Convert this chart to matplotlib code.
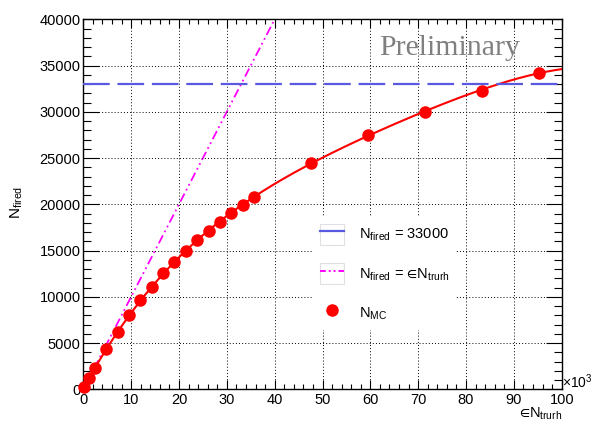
import numpy as np
import matplotlib
matplotlib.use("Agg")
import matplotlib.pyplot as plt
from matplotlib.patches import Rectangle
from matplotlib.lines import Line2D
from matplotlib.legend_handler import HandlerTuple
from matplotlib.ticker import MultipleLocator

plt.rcParams['font.family'] = ['Liberation Sans', 'DejaVu Sans']
plt.rcParams['mathtext.fontset'] = 'custom'
plt.rcParams['mathtext.rm'] = 'Liberation Sans'
plt.rcParams['mathtext.it'] = 'Liberation Sans'
plt.rcParams['mathtext.default'] = 'regular'
plt.rcParams['mathtext.fallback'] = 'stixsans'

# ---- data (x in units of 10^3) ----
mc_x = [0.2, 1.2, 2.4, 4.8, 7.15, 9.55, 11.9, 14.3, 16.65, 19.05, 21.4, 23.8,
        26.2, 28.6, 30.95, 33.35, 35.7, 47.6, 59.5, 71.4, 83.3, 95.2]
mc_y = [200, 1190, 2270, 4320, 6220, 8020, 9640, 11070, 12520, 13770, 14960, 16110,
        17110, 18130, 19060, 19960, 20780, 24490, 27520, 30030, 32300, 34210]
threshold = 33000
eps_x = [0, 40]
eps_y = [0, 40000]

fig = plt.figure(figsize=(5.94, 4.21), dpi=100)
W, H = 594, 421
ax = fig.add_axes([83.3 / W, 1 - 389.3 / H, (561.7 - 83.3) / W, (389.3 - 19.3) / H])

# fit curve through MC points
coef = np.polyfit(mc_x, mc_y, 4)
fx = np.linspace(0, 100, 400)
fy = np.polyval(coef, fx)
ax.plot(fx, fy, color='red', lw=1.5, zorder=3)

ax.axhline(threshold, color='#5a5ae0', lw=1.6, dashes=(12, 3.5), zorder=3)
ax.plot(eps_x, eps_y, color='#ff00ff', lw=1.3, dashes=(5, 2, 1, 2, 1, 2), zorder=2)
ax.plot(mc_x, mc_y, 'o', color='red', ms=8, zorder=4, clip_on=False)

ax.set_xlim(0, 100)
ax.set_ylim(0, 40000)
ax.xaxis.set_major_locator(MultipleLocator(10))
ax.xaxis.set_minor_locator(MultipleLocator(2))
ax.yaxis.set_major_locator(MultipleLocator(5000))
ax.yaxis.set_minor_locator(MultipleLocator(1000))
ax.tick_params(axis='both', which='both', direction='in', top=True, right=True,
               width=0.8, labelsize=10.5, colors='black')
ax.tick_params(axis='x', which='major', length=6.5, pad=3)
ax.tick_params(axis='x', which='minor', length=3.4)
ax.tick_params(axis='y', which='major', length=11.5, pad=2)
ax.tick_params(axis='y', which='minor', length=5.8)
for s in ax.spines.values():
    s.set_linewidth(1.0)
ax.grid(True, which='major', color='black', lw=0.7, linestyle=(0, (1, 2.2)))
ax.set_axisbelow(False)

# labels
fig.text(17 / W, 1 - 202 / H, r'$N_{fired}$', rotation=90, ha='center', va='center', fontsize=11)
fig.text(561.7 / W, 1 - 417.5 / H, '$∈N_{trurh}$', ha='right', va='baseline', fontsize=10.5)
fig.text(562.5 / W, 1 - 388 / H, r'×10$^{3}$', ha='left', va='baseline', fontsize=10)
ax.text(0.766, 1 - (55 - 19.3) / 370, 'Preliminary', transform=ax.transAxes,
        family='Liberation Serif', fontsize=21.5, color='#808080', ha='center', va='baseline')

# legend
box_kw = dict(facecolor='none', edgecolor='#e0e0e0', lw=0.8)
h1 = (Rectangle((0, 0), 1, 1, **box_kw), Line2D([], [], color='#5a5ae0', lw=1.6))
h2 = (Rectangle((0, 0), 1, 1, **box_kw), Line2D([], [], color='#ff00ff', lw=1.4, dashes=(3, 1.5, 1, 1.5, 1, 1.5)))
h3 = Line2D([], [], marker='o', color='red', ls='none', ms=8)
leg = ax.legend([h1, h2, h3],
                [r'$N_{fired}$ = 33000', '$N_{fired}$ = $∈N_{trurh}$', r'$N_{MC}$'],
                handler_map={tuple: HandlerTuple(ndivide=1, pad=0)},
                loc='upper left', bbox_to_anchor=((313 - 83.3) / 478.4, (389.3 - 217) / 370),
                frameon=True, fancybox=False, edgecolor='none', facecolor='white', framealpha=1,
                fontsize=10.5, handlelength=1.7, handleheight=1.85, handletextpad=1.0,
                labelspacing=1.25, borderpad=0.45, borderaxespad=0)

fig.savefig('out.png', dpi=100)
